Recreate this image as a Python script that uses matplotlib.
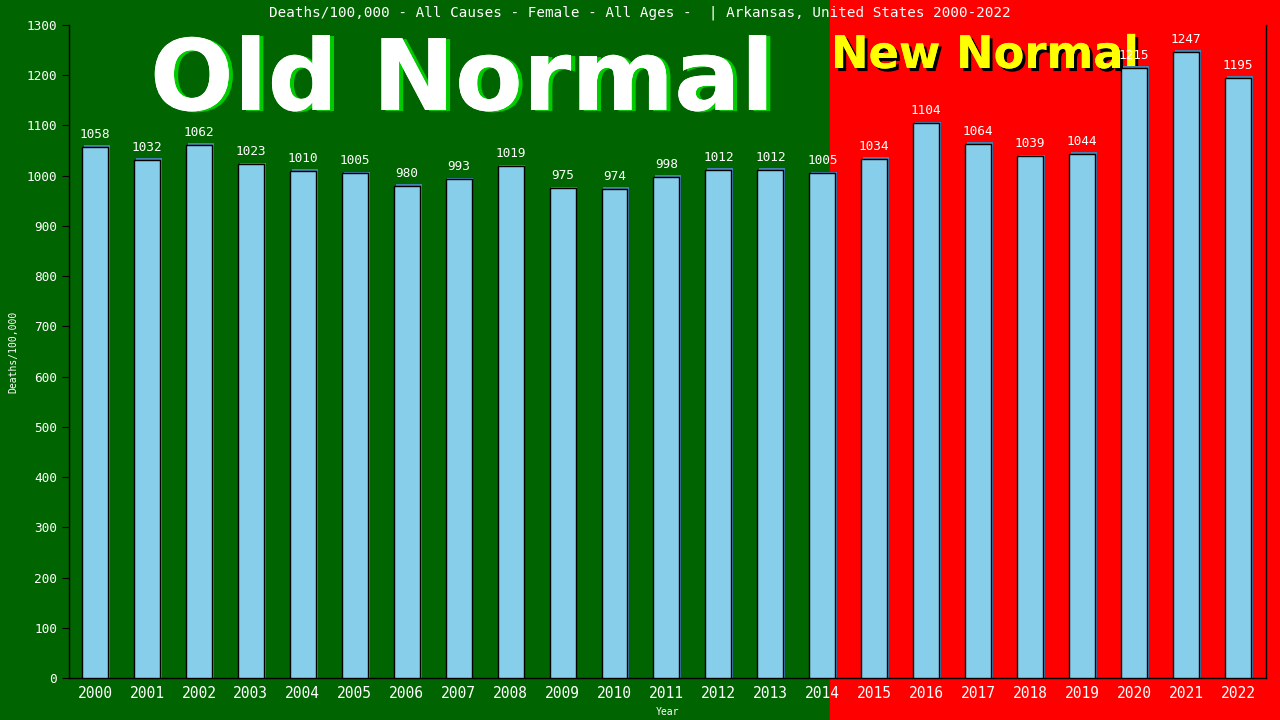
import matplotlib
matplotlib.use("Agg")
import matplotlib.pyplot as plt
from matplotlib.patches import Rectangle
import matplotlib.patheffects as pe

years = [str(y) for y in range(2000, 2023)]
deaths = [1058, 1032, 1062, 1023, 1010, 1005, 980, 993, 1019, 975, 974, 998,
          1012, 1012, 1005, 1034, 1104, 1064, 1039, 1044, 1215, 1247, 1195]
yticks = list(range(0, 1301, 100))
title = "Deaths/100,000 - All Causes - Female - All Ages -  | Arkansas, United States 2000-2022"

mono = "DejaVu Sans Mono"

fig = plt.figure(figsize=(12.8, 7.2), dpi=100)
# two-colour background: old normal (green) / new normal (red)
split = 830 / 1280
fig.patches.append(Rectangle((0, 0), split, 1, transform=fig.transFigure,
                             color="#006400", zorder=-10))
fig.patches.append(Rectangle((split, 0), 1 - split, 1, transform=fig.transFigure,
                             color="#ff0000", zorder=-10))

# big banner words sit behind the axes content
fig.text(462 / 1280, 1 - 110 / 720, "Old Normal", ha="center", va="baseline",
         color="white", fontsize=71, fontweight="bold",
         family="DejaVu Sans", zorder=-5,
         path_effects=[pe.withSimplePatchShadow(offset=(3, -0.7),
                                                shadow_rgbFace="#00cc00",
                                                alpha=1),
                       pe.Normal()])
fig.text(831 / 1280, 1 - 68 / 720, "New Normal", ha="left", va="baseline",
         color="#ffff00", fontsize=32.3, fontweight="bold",
         family="DejaVu Sans", zorder=-5,
         path_effects=[pe.withSimplePatchShadow(offset=(2.2, -2.2),
                                                shadow_rgbFace="black",
                                                alpha=1),
                       pe.Normal()])

ax = fig.add_axes([69 / 1280, 42 / 720, 1197 / 1280, 653 / 720])
ax.patch.set_alpha(0)

x = list(range(len(years)))
# shadow bars slightly offset, then the main bars
ax.bar([i + 0.035 for i in x], [d + 3 for d in deaths], width=0.5,
       color="#4682b4", zorder=2)
ax.bar(x, deaths, width=0.5, color="#87ceeb", edgecolor="black",
       linewidth=1, zorder=3)

for i, d in zip(x, deaths):
    ax.text(i, d + 12, str(d), ha="center", va="bottom", color="white",
            fontsize=9.2, family=mono, zorder=5)

ax.set_xlim(-0.5, 22.54)
ax.set_ylim(0, 1300)
ax.set_yticks(yticks)
ax.set_xticks(x)
ax.set_xticklabels(years)
ax.tick_params(axis="y", colors="white", labelsize=9.2, length=5,
               direction="out")
ax.tick_params(axis="y", color="black")
ax.tick_params(axis="x", colors="white", labelsize=10.5, length=0, pad=6)
for lab in ax.get_xticklabels() + ax.get_yticklabels():
    lab.set_family(mono)

ax.spines["top"].set_visible(False)
for s in ["left", "bottom", "right"]:
    ax.spines[s].set_color("black")
    ax.spines[s].set_linewidth(1)

ax.set_xlabel("Year", color="white", fontsize=7, family=mono, labelpad=4)
ax.set_ylabel("Deaths/100,000", color="white", fontsize=7, family=mono,
              labelpad=6)

fig.text(0.5, 1 - 13 / 720, title, ha="center", va="center", color="white",
         fontsize=10.3, family=mono)

fig.savefig("out.png", dpi=100)
